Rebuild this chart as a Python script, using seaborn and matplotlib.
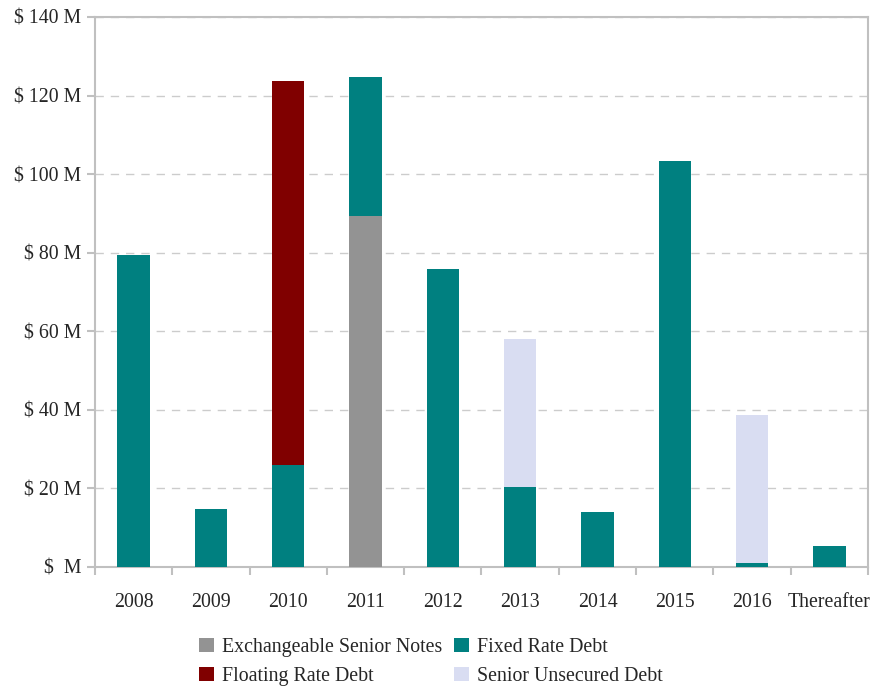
import numpy as np
import pandas as pd
import matplotlib
matplotlib.use("Agg")
import matplotlib.pyplot as plt
import seaborn as sns
from matplotlib.patches import Patch

sns.set_theme(style="white")
plt.rcParams['font.family'] = ['Liberation Serif', 'DejaVu Serif']

# Debt maturities by year ($ millions), stacked bottom-to-top in this order
years = ["2008", "2009", "2010", "2011", "2012", "2013", "2014", "2015", "2016", "Thereafter"]
exchangeable = [0, 0, 0, 89.3, 0, 0, 0, 0, 0, 0]
fixed_rate = [79.3, 14.7, 26.0, 35.4, 75.8, 20.4, 14.0, 103.3, 1.0, 5.3]
floating_rate = [0, 0, 97.7, 0, 0, 0, 0, 0, 0, 0]
senior_unsecured = [0, 0, 0, 0, 0, 37.6, 0, 0, 37.7, 0]

series_names = ["Exchangeable Senior Notes", "Fixed Rate Debt", "Floating Rate Debt", "Senior Unsecured Debt"]
colors = ["#939393", "#008080", "#800000", "#d9ddf2"]

df = pd.DataFrame({
    "year": years,
    "Exchangeable Senior Notes": exchangeable,
    "Fixed Rate Debt": fixed_rate,
    "Floating Rate Debt": floating_rate,
    "Senior Unsecured Debt": senior_unsecured,
})
cum = df[series_names].cumsum(axis=1)

FS = 14.3

fig = plt.figure(figsize=(8.78, 6.91), dpi=100)
ax = fig.add_axes([0.1082, 0.1795, 0.8804, 0.7959])

# draw tallest cumulative layer first so lower segments sit on top
for name, col in reversed(list(zip(series_names, colors))):
    sns.barplot(x=df["year"], y=cum[name], color=col, width=0.42,
                saturation=1, linewidth=0, ax=ax, zorder=3)

ax.set_ylim(0, 140)
ax.set_xlim(-0.5, len(years) - 0.5)
ticks = np.arange(0, 141, 20)
ax.set_yticks(ticks)
ax.set_yticklabels([f"$ {t} M" if t > 0 else "$  M" for t in ticks], fontsize=FS)
ax.set_xticks(range(len(years)))
ax.set_xticklabels(years, fontsize=FS)
ax.set_xlabel("")
ax.set_ylabel("")

ax.yaxis.grid(True, color="#cccccc", linestyle=(0, (6, 5)), linewidth=1, zorder=0)
ax.set_axisbelow(True)
for sp in ax.spines.values():
    sp.set_color("#c0c0c0")
    sp.set_linewidth(1.5)

# tick marks between categories on x, outward on y
ax.tick_params(axis="y", which="major", length=6, color="#c0c0c0", width=1.5, direction="out", left=True, pad=4)
ax.tick_params(axis="x", which="major", length=0, pad=19)
ax.set_xticks(np.arange(-0.5, len(years), 1), minor=True)
ax.tick_params(axis="x", which="minor", length=6, color="#c0c0c0", width=1.5, direction="out", bottom=True)

handles = [Patch(facecolor=c, edgecolor="none", label=n) for n, c in zip(series_names, colors)]
fig.legend(handles=[handles[0], handles[2], handles[1], handles[3]], ncol=2, frameon=False,
           loc="center", bbox_to_anchor=(0.491, 0.042), fontsize=FS,
           handlelength=0.75, handleheight=0.75, handletextpad=0.4, columnspacing=0.6,
           labelspacing=0.5)

fig.savefig("out.png", dpi=100)
